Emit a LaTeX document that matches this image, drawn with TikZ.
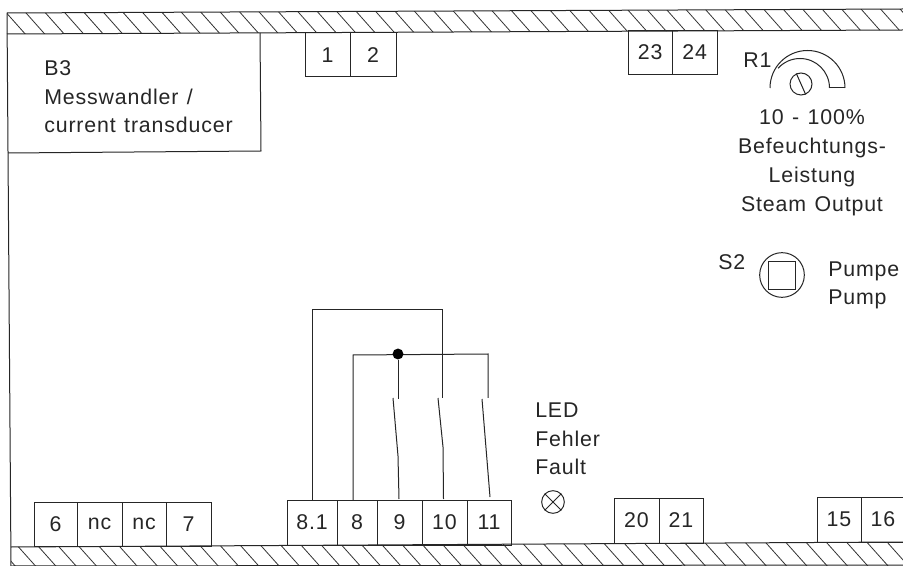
\documentclass[tikz,border=0pt]{standalone}
\usepackage{fontspec}
\setmainfont[LetterSpace=4,WordSpace=1.25]{Liberation Sans}
\tikzset{
  x=0.75pt,y=-0.75pt,
  wire/.style={draw=black!85,line width=0.75pt},
  hatchline/.style={draw=black!80,line width=0.6pt},
  lab/.style={inner sep=0pt,anchor=base west,font=\fontsize{16}{18}\selectfont,text=black!85},
  labc/.style={inner sep=0pt,anchor=base,font=\fontsize{16}{18}\selectfont,text=black!85},
  termbox/.style={draw=black!85,line width=0.75pt,inner sep=0pt,font=\fontsize{16}{18}\selectfont,text=black!85},
}
\newcommand{\term}[6]{% name x0 x1 ytop ybot label
  \pgfmathsetmacro{\tw}{(#3-(#2))*0.75}\pgfmathsetmacro{\th}{(#5-(#4))*0.75}
  \node[termbox,minimum width=\tw pt,minimum height=\th pt] (#1) at ({(#2+#3)/2},{(#4+#5)/2}) {#6};}
\begin{document}
\begin{tikzpicture}
\useasboundingbox (0,0) rectangle (903,566);
\fill[white] (0,0) rectangle (903,566);
% bands
\begin{scope}
\clip (7,13) -- (903,9) -- (903,30) -- (7,34) -- cycle;
\foreach \i in {0,...,46} \draw[hatchline] ({7+\i*19.5-4},9) -- ({7+\i*19.5+20},36);
\end{scope}
\begin{scope}
\clip (11,547) -- (903,542) -- (903,566) -- (11,566) -- cycle;
\foreach \i in {0,...,46} \draw[hatchline] ({-8+\i*20.3},540) -- ({17+\i*20.3},568);
\end{scope}
\coordinate (tl) at (7,13); \coordinate (tr) at (903,9);
\coordinate (ml) at (7,34); \coordinate (mr) at (903,30);
\coordinate (bl) at (11,566); \coordinate (br) at (903,565);
\coordinate (cl) at (11,547); \coordinate (cr) at (903,542);
\draw[wire] (tl) -- (tr);
\draw[wire] (ml) -- (mr);
\draw[wire] (tl) -- (bl) -- (br);
\draw[wire] (cl) -- (cr);
% B3
\coordinate (b3a) at (8,153); \coordinate (b3b) at (261,151); \coordinate (b3c) at (260,33);
\draw[wire] (b3a) -- (b3b) -- (b3c);
\node[lab] (b3t1) at (44,76) {B3};
\node[lab] (b3t2) at (44,105) {Messwandler /};
\node[lab] (b3t3) at (44,133) {current transducer};
% terminals
\term{t1}{305}{350}{33}{77}{1}
\term{t2}{350}{396}{33}{77}{2}
\term{t23}{628}{672.5}{31}{75}{\raisebox{1.5pt}{23}}
\term{t24}{672.5}{717}{31}{75}{\raisebox{1.5pt}{24}}
\term{t6}{34}{77}{502}{546}{6}
\term{tnca}{77}{122}{502}{546}{nc}
\term{tncb}{122}{166}{502}{546}{nc}
\term{t7}{166}{211}{502}{546}{7}
\term{t81}{287}{337}{500}{545}{8.1}
\term{t8}{337}{377}{500}{545}{8}
\term{t9}{377}{422}{500}{545}{9}
\term{t10}{422}{467}{500}{545}{10}
\term{t11}{467}{511}{500}{545}{11}
\term{t20}{614}{659}{498}{543}{20}
\term{t21}{659}{703}{498}{543}{21}
\term{t15}{817}{861}{497}{542}{15}
\term{t16}{861}{905}{497}{542}{16}
% R1
\node[lab] (r1) at (743,68) {R1};
\draw[wire] (770,88) arc[start angle=-180,end angle=0,radius=37.5];
\draw[wire] (829.5,88) arc[start angle=0,end angle=-138,radius=29.5];
\draw[wire] (829.5,88) -- (845,88);
\node[circle,wire,minimum size=16.5pt,inner sep=0pt] (pot) at (801,84) {};
\draw[wire] (pot.114) -- (pot.-66);
\node[labc] (r1a) at (812,125) {10 - 100\%};
\node[labc] (r1b) at (812,154) {Befeuchtungs-};
\node[labc] (r1c) at (812,183) {Leistung};
\node[labc] (r1d) at (812,212) {Steam Output};
% S2
\node[lab] (s2) at (718,270) {S2};
\node[circle,wire,minimum size=33.5pt,inner sep=0pt] (s2c) at (782,275) {};
\node[wire,draw,minimum size=20.5pt,inner sep=0pt] (s2s) at (782,275.5) {};
\node[lab] (pa) at (828,277) {Pumpe};
\node[lab] (pb) at (828,305) {Pump};
% wiring
\coordinate (w81) at (312,500); \coordinate (w81t) at (312,310); \coordinate (w10t) at (442,310); \coordinate (w10e) at (442,398);
\coordinate (w8) at (353,500); \coordinate (w8t) at (353,355); \coordinate (w11t) at (488,354); \coordinate (w11e) at (488,398);
\coordinate (w9e) at (398,399);
\draw[wire] (w81) -- (w81t) -- (w10t) -- (w10e);
\draw[wire] (w8) -- (w8t) -- (w11t) -- (w11e);
\node[circle,fill=black,inner sep=0pt,minimum size=8.2pt] (dot) at (398,354) {};
\draw[wire] (dot) -- (w9e);
\coordinate (s9a) at (399,499); \coordinate (s9b) at (398,456); \coordinate (s9c) at (393,398);
\coordinate (s10a) at (443.5,499); \coordinate (s10b) at (443,447); \coordinate (s10c) at (438,398);
\coordinate (s11a) at (490,497); \coordinate (s11b) at (482,399);
\draw[wire] (s9a) -- (s9b) -- (s9c);
\draw[wire] (s10a) -- (s10b) -- (s10c);
\draw[wire] (s11a) -- (s11b);
% LED
\node[lab] (led1) at (535,417) {LED};
\node[lab] (led2) at (535,446) {Fehler};
\node[lab] (led3) at (535,474) {Fault};
\node[circle,wire,minimum size=17pt,inner sep=0pt] (lamp) at (553,502) {};
\draw[wire] (lamp.45) -- (lamp.225);
\draw[wire] (lamp.135) -- (lamp.-45);
\end{tikzpicture}
\end{document}
